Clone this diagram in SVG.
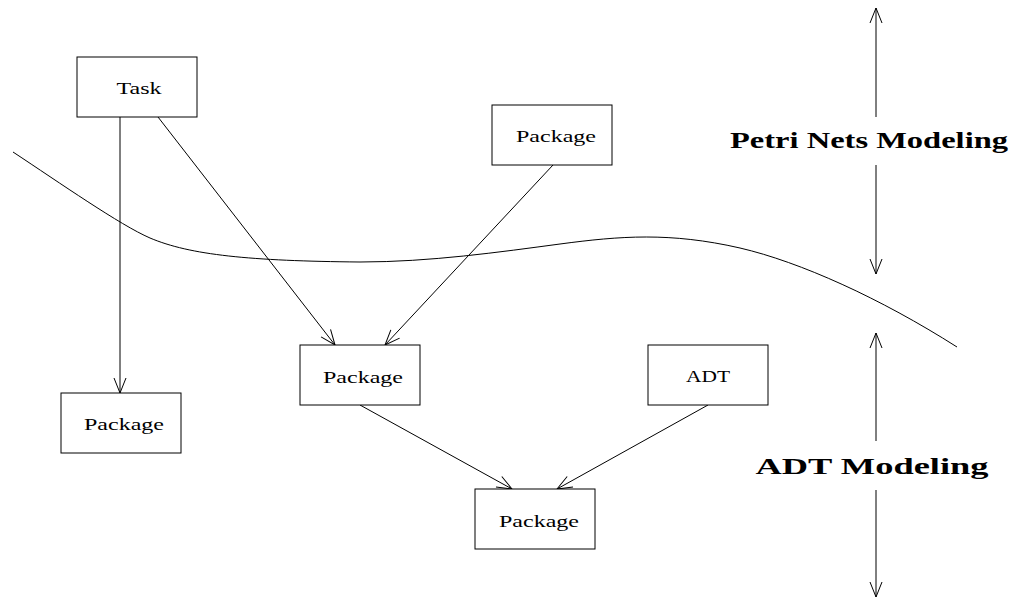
<svg xmlns="http://www.w3.org/2000/svg" width="1013" height="598" viewBox="0 0 1013 598">
<defs>
<style>
.box{fill:#fff;stroke:#000;stroke-width:1}
.lbl{font-family:"Liberation Serif",serif;font-size:17px;text-anchor:middle;fill:#000}
.big{font-family:"Liberation Serif",serif;font-size:23px;font-weight:bold;text-anchor:middle;fill:#000}
.ln{fill:none;stroke:#000;stroke-width:1}
</style>
<marker id="ah" markerUnits="userSpaceOnUse" markerWidth="20" markerHeight="14" refX="16" refY="6" orient="auto" overflow="visible">
<path d="M1,0 L16,6 L1,12" fill="none" stroke="#000" stroke-width="1"/>
</marker>
</defs>
<rect width="1013" height="598" fill="#fff"/>
<path class="ln" d="M13,152 C60,183 120,225 150,238 C190,255 250,261 360,262 C430,262 500,252 560,244 C620,236 670,232 740,248 C800,262 880,298 957,347"/>
<g id="connectors">
<line class="ln" x1="120" y1="117" x2="120" y2="393" marker-end="url(#ah)"/>
<line class="ln" x1="158" y1="117" x2="335" y2="345" marker-end="url(#ah)"/>
<line class="ln" x1="553" y1="165" x2="385" y2="345" marker-end="url(#ah)"/>
<line class="ln" x1="360" y1="405" x2="512" y2="489" marker-end="url(#ah)"/>
<line class="ln" x1="708" y1="405" x2="557" y2="489" marker-end="url(#ah)"/>
<line class="ln" x1="876" y1="117" x2="876" y2="8" marker-end="url(#ah)"/>
<line class="ln" x1="876" y1="165" x2="876" y2="274" marker-end="url(#ah)"/>
<line class="ln" x1="876" y1="441" x2="876" y2="333" marker-end="url(#ah)"/>
<line class="ln" x1="876" y1="490" x2="876" y2="597" marker-end="url(#ah)"/>
</g>
<g id="task"><rect class="box" x="77" y="57" width="120" height="60"/><text class="lbl" x="139" y="94" textLength="45" lengthAdjust="spacingAndGlyphs">Task</text></g>
<g id="pkg-top"><rect class="box" x="492" y="105" width="120" height="60"/><text class="lbl" x="556" y="142" textLength="80" lengthAdjust="spacingAndGlyphs">Package</text></g>
<g id="pkg-mid"><rect class="box" x="300" y="345" width="120" height="60"/><text class="lbl" x="363" y="383" textLength="80" lengthAdjust="spacingAndGlyphs">Package</text></g>
<g id="pkg-left"><rect class="box" x="61" y="393" width="120" height="60"/><text class="lbl" x="124" y="430" textLength="80" lengthAdjust="spacingAndGlyphs">Package</text></g>
<g id="adt"><rect class="box" x="648" y="345" width="120" height="60"/><text class="lbl" x="708" y="382" textLength="44" lengthAdjust="spacingAndGlyphs">ADT</text></g>
<g id="pkg-bot"><rect class="box" x="475" y="489" width="120" height="60"/><text class="lbl" x="539" y="527" textLength="80" lengthAdjust="spacingAndGlyphs">Package</text></g>
<g id="petri-label"><text class="big" x="869" y="148" textLength="278" lengthAdjust="spacingAndGlyphs">Petri Nets Modeling</text></g>
<g id="adt-label"><text class="big" x="872" y="474" textLength="233" lengthAdjust="spacingAndGlyphs">ADT Modeling</text></g>
</svg>
